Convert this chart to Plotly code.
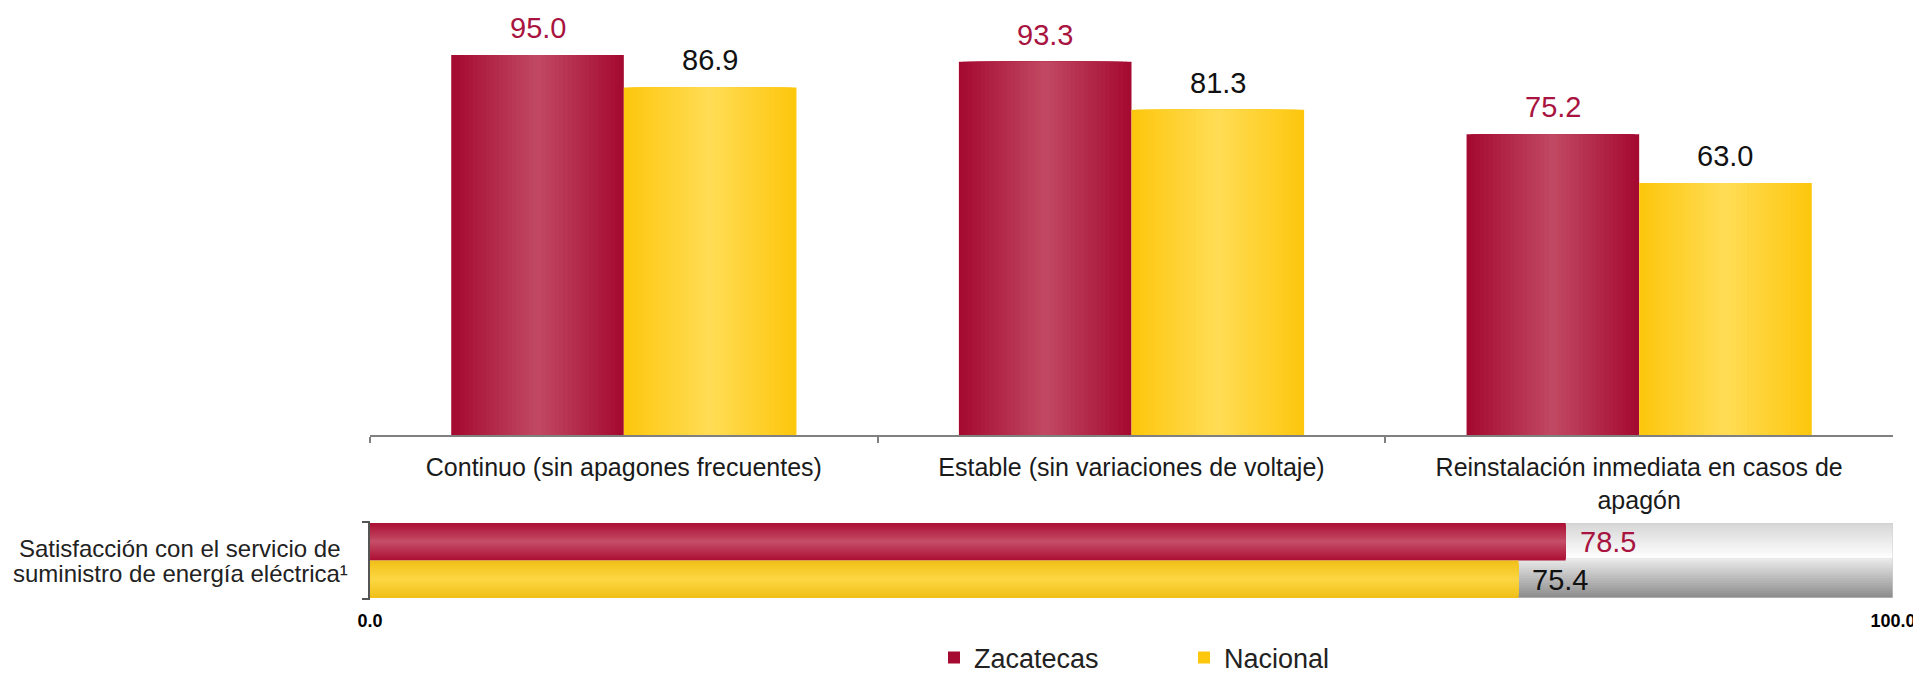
import plotly.graph_objects as go

# ---------------- data ----------------
categorias = [
    "Continuo (sin apagones frecuentes)",
    "Estable (sin variaciones de voltaje)",
    "Reinstalación inmediata en casos de<br>apagón",
]
zacatecas = [95.0, 93.3, 75.2]
nacional = [86.9, 81.3, 63.0]

satisf_label = ["Satisfacción con el servicio de<br>suministro de energía eléctrica¹"]
satisf_zac = [78.5]
satisf_nac = [75.4]

escala = [0.0, 100.0]
escala_texto = ["0.0", "100.0"]
series = ["Zacatecas", "Nacional"]

# ---------------- style ----------------
PAGE_OFF = 8                      # default body margin of the html page
W, H = 1921 - PAGE_OFF, 676 - PAGE_OFF
FONT = "Liberation Sans, Arial, sans-serif"
X0_PX, X1_PX = 370 - PAGE_OFF, 1893 - PAGE_OFF
TOP_Y0_PX, TOP_Y1_PX = 435 - PAGE_OFF, 35 - PAGE_OFF
BOT_Y0_PX, BOT_Y1_PX = 598 - PAGE_OFF, 523 - PAGE_OFF
CAT_PX = (X1_PX - X0_PX) / len(categorias)

RED_EDGE, RED_CENTER = (165, 10, 48), (192, 72, 98)
YEL_EDGE, YEL_CENTER = (253, 199, 14), (255, 220, 84)
RED_EDGE_H, RED_CENTER_H = (172, 16, 52), (196, 76, 102)
YEL_EDGE_H, YEL_CENTER_H = (240, 192, 24), (252, 214, 66)
RED_TEXT = "#A8143F"


def lerp(a, b, t):
    return "rgb(%d,%d,%d)" % tuple(round(a[i] + (b[i] - a[i]) * t) for i in range(3))


fig = go.Figure()

N = 20
BW = 0.34


def add_vbars(name, vals, off, edge, center):
    for k in range(N):
        f = 1 - k / N
        w = BW * f
        o = off + (BW - w) / 2
        fig.add_trace(go.Bar(
            x=categorias, y=vals, width=w, offset=o,
            marker=dict(color=lerp(edge, center, k / (N - 1)), line=dict(width=0)),
            name=name, legendgroup=name, showlegend=(k == 0),
            xaxis="x", yaxis="y", hoverinfo="skip",
        ))


add_vbars(series[0], zacatecas, -BW, RED_EDGE, RED_CENTER)
add_vbars(series[1], nacional, 0.0, YEL_EDGE, YEL_CENTER)

BH = 0.5


def add_hbars(name, vals, off, edge, center):
    for k in range(N):
        f = 1 - k / N
        h = BH * f
        o = off + (BH - h) / 2
        fig.add_trace(go.Bar(
            x=vals, y=satisf_label, orientation="h", width=h, offset=o,
            marker=dict(color=lerp(edge, center, k / (N - 1)), line=dict(width=0)),
            name=name, legendgroup=name, showlegend=False,
            xaxis="x2", yaxis="y2", hoverinfo="skip",
        ))


add_hbars(series[0], satisf_zac, -BH, RED_EDGE_H, RED_CENTER_H)
add_hbars(series[1], satisf_nac, 0.0, YEL_EDGE_H, YEL_CENTER_H)

# gray track behind bottom bars (gradient strips, slightly overlapping)
shapes = []
NS = 30
for i in range(NS):
    s = (i + 0.5) / NS
    if s < 0.47:
        c = lerp((214, 214, 214), (255, 255, 255), s / 0.47)
    else:
        c = lerp((236, 236, 236), (138, 138, 138), (s - 0.47) / 0.53)
    shapes.append(dict(
        type="rect", xref="x2", yref="y2", layer="below",
        x0=escala[0], x1=escala[1],
        y0=-0.5 + i / NS, y1=min(0.5, -0.5 + (i + 1.6) / NS),
        fillcolor=c, line=dict(width=0),
    ))
shapes.append(dict(
    type="rect", xref="x2", yref="y2", layer="below",
    x0=escala[0], x1=escala[1], y0=-0.5, y1=0.5,
    fillcolor="rgba(0,0,0,0)", line=dict(width=1, color="#d0d0d0"),
))
# bracket on the left of the bottom bar (paper coords so it is not clipped)
bx1 = (X0_PX - 1) / W
bx0 = (X0_PX - 8) / W
by0 = 1 - (BOT_Y0_PX + 1) / H
by1 = 1 - (BOT_Y1_PX - 1) / H
shapes.append(dict(
    type="path", xref="paper", yref="paper",
    path=f"M{bx0},{by1} L{bx1},{by1} L{bx1},{by0} L{bx0},{by0}",
    line=dict(width=2, color="#555555"), layer="above",
))

# annotations (value labels)
annotations = []
for i, cat in enumerate(categorias):
    annotations.append(dict(
        x=cat, y=zacatecas[i], xref="x", yref="y", xshift=-BW / 2 * CAT_PX, yshift=27,
        text=f"{zacatecas[i]:.1f}", showarrow=False, yanchor="middle",
        font=dict(family=FONT, size=29, color=RED_TEXT),
    ))
    annotations.append(dict(
        x=cat, y=nacional[i], xref="x", yref="y", xshift=BW / 2 * CAT_PX, yshift=27,
        text=f"{nacional[i]:.1f}", showarrow=False, yanchor="middle",
        font=dict(family=FONT, size=29, color="#111111"),
    ))

annotations.append(dict(
    x=satisf_zac[0], y=satisf_label[0], xref="x2", yref="y2", xshift=12, yshift=19,
    text=f"{satisf_zac[0]:.1f}", showarrow=False, xanchor="left", yanchor="middle",
    font=dict(family=FONT, size=29, color=RED_TEXT),
))
annotations.append(dict(
    x=satisf_nac[0], y=satisf_label[0], xref="x2", yref="y2", xshift=12, yshift=-19,
    text=f"{satisf_nac[0]:.1f}", showarrow=False, xanchor="left", yanchor="middle",
    font=dict(family=FONT, size=29, color="#111111"),
))
# category label of the bottom bar: one annotation per line for tight spacing
label_lines = satisf_label[0].split("<br>")
for j, line in enumerate(label_lines):
    annotations.append(dict(
        x=escala[0], y=satisf_label[0], xref="x2", yref="y2", xshift=-190, xanchor="center",
        yshift=12.5 - 25 * j,
        text=line, showarrow=False, yanchor="middle", align="center",
        font=dict(family=FONT, size=24, color="#222222"),
    ))

xdom = [X0_PX / W, X1_PX / W]

fig.update_layout(
    width=W, height=H,
    margin=dict(l=0, r=0, t=0, b=0, autoexpand=False),
    paper_bgcolor="white", plot_bgcolor="white",
    barmode="overlay",
    hovermode=False,
    shapes=shapes,
    annotations=annotations,
    font=dict(family=FONT, color="#222222"),
    xaxis=dict(
        type="category", domain=xdom, anchor="y", range=[-0.5, len(categorias) - 0.5],
        showline=True, linecolor="#808080", linewidth=2,
        ticks="outside", tickson="boundaries", ticklen=6, tickwidth=2, tickcolor="#808080",
        tickfont=dict(family=FONT, size=25, color="#1a1a1a"),
        ticklabelstandoff=9,
        showgrid=False, zeroline=False,
    ),
    yaxis=dict(
        domain=[1 - TOP_Y0_PX / H, 1 - TOP_Y1_PX / H], range=[0, 100],
        visible=False, anchor="x",
    ),
    xaxis2=dict(
        domain=xdom, anchor="y2", range=escala,
        showline=False, showgrid=False, zeroline=False,
        tickvals=escala, ticktext=escala_texto, ticks="",
        tickfont=dict(family=FONT, size=18, color="#000000", weight="bold"),
        ticklabelstandoff=10,
    ),
    yaxis2=dict(
        type="category", domain=[1 - BOT_Y0_PX / H, 1 - BOT_Y1_PX / H], anchor="x2",
        range=[0.5, -0.5],
        showline=False, ticks="",
        showticklabels=False, showgrid=False, zeroline=False,
    ),
    legend=dict(
        orientation="h", x=(934 - PAGE_OFF) / W, xanchor="left",
        y=1 - (658 - PAGE_OFF) / H, yanchor="middle",
        font=dict(family=FONT, size=27, color="#222222"),
        bgcolor="rgba(0,0,0,0)", entrywidth=205, traceorder="normal",
    ),
)

fig.write_html("out.html")
